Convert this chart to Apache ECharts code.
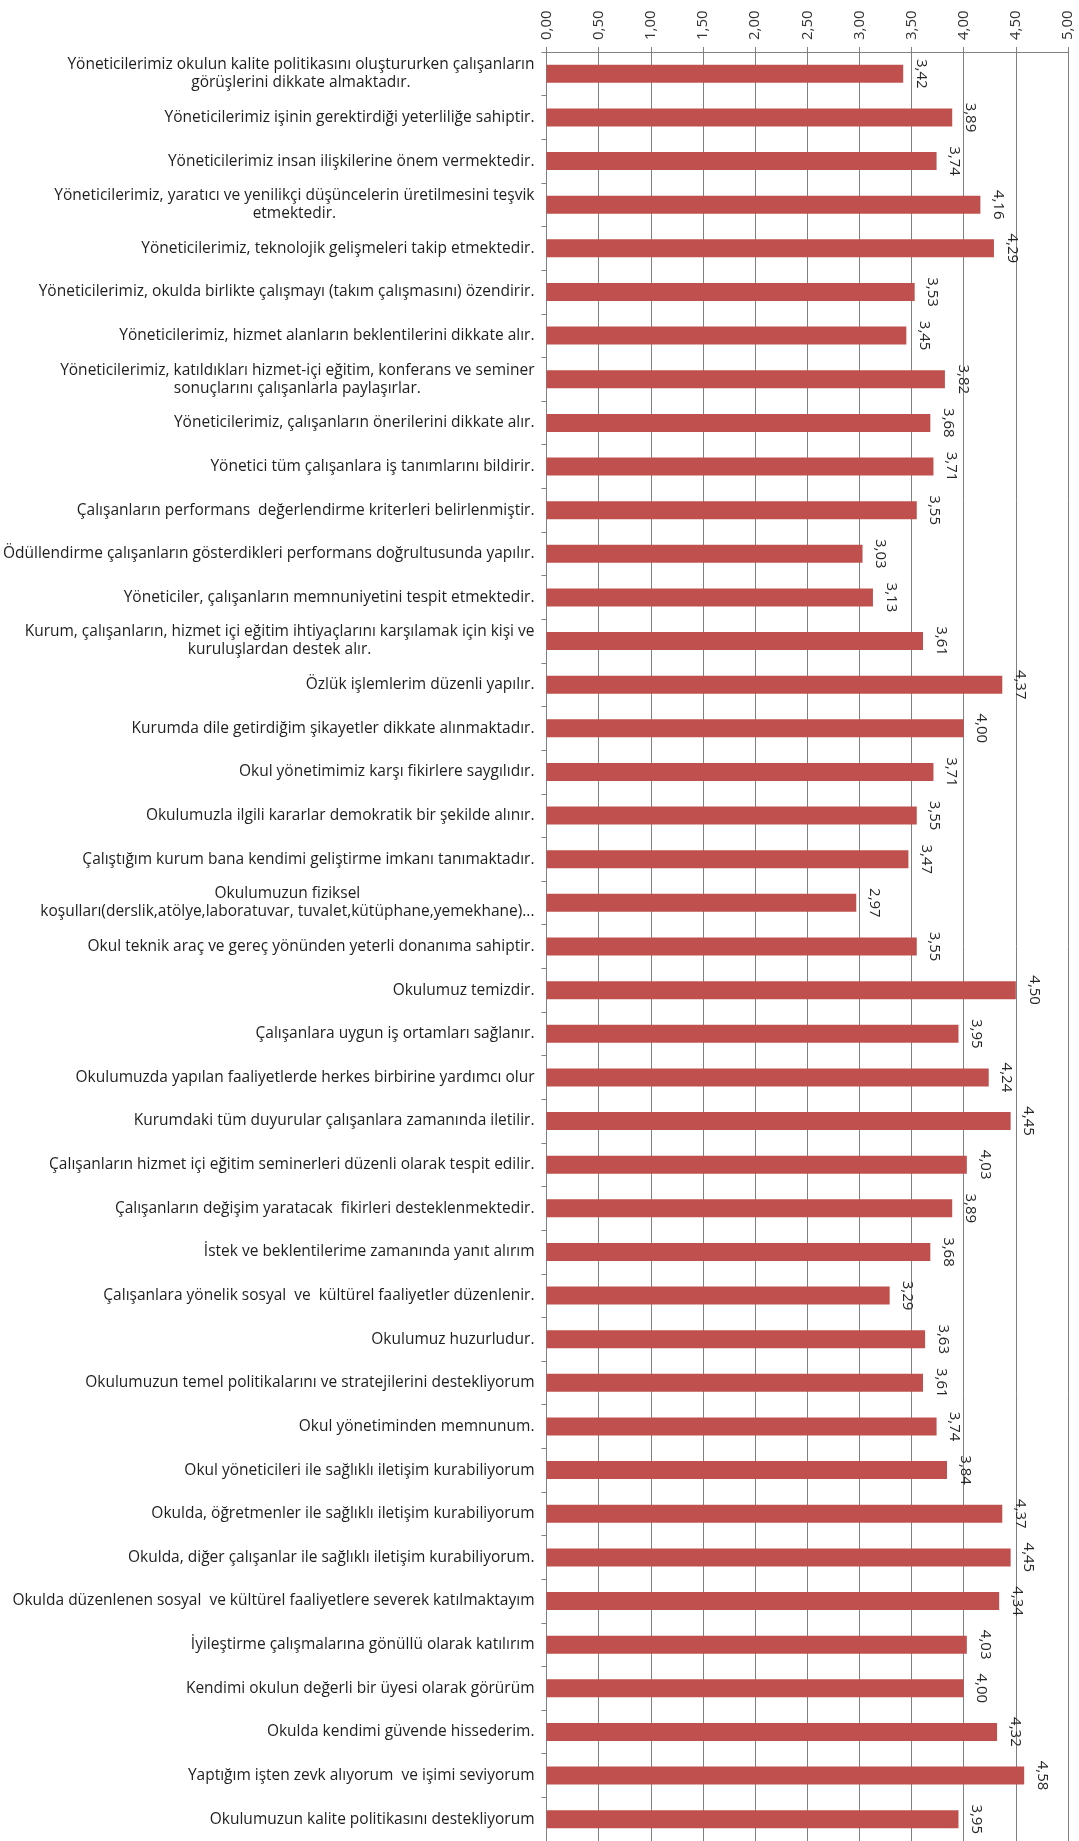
<!DOCTYPE html>
<html>
<head>
<meta charset="utf-8">
<script src="https://cdn.jsdelivr.net/npm/echarts@6/dist/echarts.min.js"></script>
<style>
html,body{margin:0;padding:0;background:#fff;}
#chart{width:1079px;height:1841px;}
</style>
</head>
<body>
<div id="chart"></div>
<script>
const categories = [
  "Yöneticilerimiz okulun kalite politikasını oluştururken çalışanların\ngörüşlerini dikkate almaktadır.",
  "Yöneticilerimiz işinin gerektirdiği yeterliliğe sahiptir.",
  "Yöneticilerimiz insan ilişkilerine önem vermektedir.",
  "Yöneticilerimiz, yaratıcı ve yenilikçi düşüncelerin üretilmesini teşvik\netmektedir.",
  "Yöneticilerimiz, teknolojik gelişmeleri takip etmektedir.",
  "Yöneticilerimiz, okulda birlikte çalışmayı (takım çalışmasını) özendirir.",
  "Yöneticilerimiz, hizmet alanların beklentilerini dikkate alır.",
  "Yöneticilerimiz, katıldıkları hizmet-içi eğitim, konferans ve seminer\nsonuçlarını çalışanlarla paylaşırlar.",
  "Yöneticilerimiz, çalışanların önerilerini dikkate alır.",
  "Yönetici tüm çalışanlara iş tanımlarını bildirir.",
  "Çalışanların performans  değerlendirme kriterleri belirlenmiştir.",
  "Ödüllendirme çalışanların gösterdikleri performans doğrultusunda yapılır.",
  "Yöneticiler, çalışanların memnuniyetini tespit etmektedir.",
  "Kurum, çalışanların, hizmet içi eğitim ihtiyaçlarını karşılamak için kişi ve\nkuruluşlardan destek alır.",
  "Özlük işlemlerim düzenli yapılır.",
  "Kurumda dile getirdiğim şikayetler dikkate alınmaktadır.",
  "Okul yönetimimiz karşı fikirlere saygılıdır.",
  "Okulumuzla ilgili kararlar demokratik bir şekilde alınır.",
  "Çalıştığım kurum bana kendimi geliştirme imkanı tanımaktadır.",
  "Okulumuzun fiziksel\nkoşulları(derslik,atölye,laboratuvar, tuvalet,kütüphane,yemekhane)...",
  "Okul teknik araç ve gereç yönünden yeterli donanıma sahiptir.",
  "Okulumuz temizdir.",
  "Çalışanlara uygun iş ortamları sağlanır.",
  "Okulumuzda yapılan faaliyetlerde herkes birbirine yardımcı olur",
  "Kurumdaki tüm duyurular çalışanlara zamanında iletilir.",
  "Çalışanların hizmet içi eğitim seminerleri düzenli olarak tespit edilir.",
  "Çalışanların değişim yaratacak  fikirleri desteklenmektedir.",
  "İstek ve beklentilerime zamanında yanıt alırım",
  "Çalışanlara yönelik sosyal  ve  kültürel faaliyetler düzenlenir.",
  "Okulumuz huzurludur.",
  "Okulumuzun temel politikalarını ve stratejilerini destekliyorum",
  "Okul yönetiminden memnunum.",
  "Okul yöneticileri ile sağlıklı iletişim kurabiliyorum",
  "Okulda, öğretmenler ile sağlıklı iletişim kurabiliyorum",
  "Okulda, diğer çalışanlar ile sağlıklı iletişim kurabiliyorum.",
  "Okulda düzenlenen sosyal  ve kültürel faaliyetlere severek katılmaktayım",
  "İyileştirme çalışmalarına gönüllü olarak katılırım",
  "Kendimi okulun değerli bir üyesi olarak görürüm",
  "Okulda kendimi güvende hissederim.",
  "Yaptığım işten zevk alıyorum  ve işimi seviyorum",
  "Okulumuzun kalite politikasını destekliyorum"
];

const values = [
  3.42, 3.89, 3.74, 4.16, 4.29, 3.53, 3.45, 3.82, 3.68, 3.71,
  3.55, 3.03, 3.13, 3.61, 4.37, 4.00, 3.71, 3.55, 3.47, 2.97,
  3.55, 4.50, 3.95, 4.24, 4.45, 4.03, 3.89, 3.68, 3.29, 3.63,
  3.61, 3.74, 3.84, 4.37, 4.45, 4.34, 4.03, 4.00, 4.32, 4.58,
  3.95
];

const xTickLabels = ["0,00","0,50","1,00","1,50","2,00","2,50","3,00","3,50","4,00","4,50","5,00"];

const FONT = "Open Sans";
const chart = echarts.init(document.getElementById('chart'), null, {renderer: 'canvas'});

const option = {
  backgroundColor: '#ffffff',
  animation: false,
  grid: { left: 545, right: 11, top: 52, height: 1794, containLabel: false },
  xAxis: {
    type: 'value',
    position: 'top',
    min: 0,
    max: 5,
    interval: 0.5,
    axisLine: { show: true, lineStyle: { color: '#808080', width: 1 } },
    axisTick: { show: true, length: 5, lineStyle: { color: '#808080' } },
    splitLine: { show: true, lineStyle: { color: '#808080', width: 1 } },
    axisLabel: {
      rotate: -90,
      margin: 12,
      color: '#333333',
      fontFamily: FONT,
      fontSize: 15,
      formatter: function (v) { return xTickLabels[Math.round(v / 0.5)]; }
    }
  },
  yAxis: {
    type: 'category',
    inverse: true,
    data: categories,
    axisLine: { show: true, lineStyle: { color: '#808080', width: 1 } },
    axisTick: { show: true, length: 5, lineStyle: { color: '#808080' } },
    splitLine: { show: false },
    axisLabel: {
      margin: 12,
      color: '#1e1e1e',
      fontFamily: FONT,
      fontSize: 15.5,
      lineHeight: 18,
      interval: 0,
      formatter: function (v) {
        if (v.indexOf('\n') < 0) return v;
        return v.split('\n').map(function (s) { return '{c|' + s + '}'; }).join('\n');
      },
      rich: {
        c: { align: 'center', fontFamily: FONT, fontSize: 15.5, lineHeight: 18, color: '#1e1e1e' }
      }
    }
  },
  series: [{
    type: 'bar',
    data: values,
    barWidth: 18,
    itemStyle: { color: '#C0504D' },
    label: {
      show: true,
      position: 'right',
      distance: 18,
      rotate: -90,
      align: 'center',
      verticalAlign: 'middle',
      color: '#262626',
      fontFamily: FONT,
      fontSize: 15,
      formatter: function (p) { return p.value.toFixed(2).replace('.', ','); }
    }
  }]
};
chart.setOption(option);
</script>
</body>
</html>
